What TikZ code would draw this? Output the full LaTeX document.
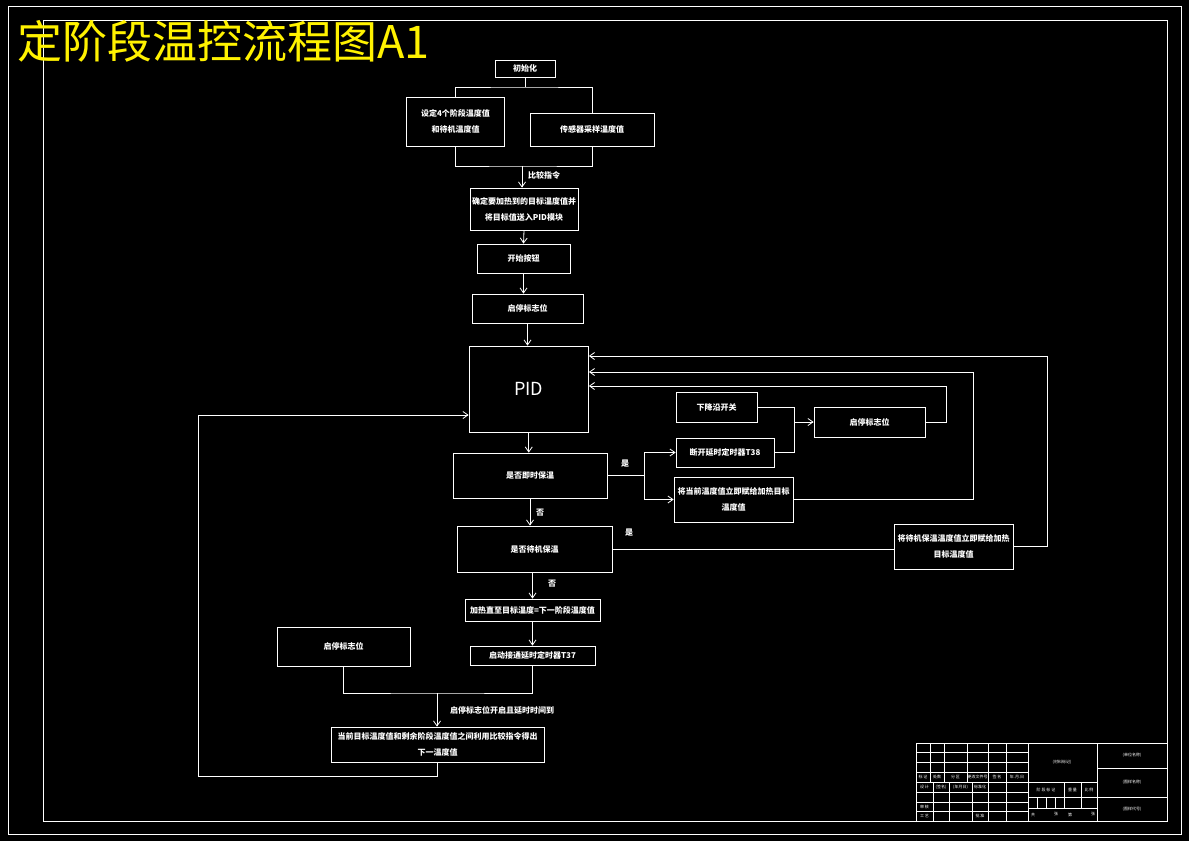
\documentclass[tikz,border=0pt]{standalone}
\usepackage{fontspec}
\newfontfamily\cjk{Noto Sans CJK SC}
\usetikzlibrary{arrows.meta}

\begin{document}
\begin{tikzpicture}[x=1pt, y=-1pt, line width=0.8pt, draw=white,
    >={Straight Barb[length=5pt,width=7pt]},
    blk/.style={draw=white, inner sep=0pt, align=center, text=white,
      font=\cjk\bfseries\fontsize{8}{16}\selectfont},
    lbl/.style={inner sep=0pt, text=white, font=\cjk\bfseries\fontsize{8}{10}\selectfont},
    tb/.style={inner sep=0pt, text=white, font=\cjk\fontsize{4}{5}\selectfont}]
    \fill[black] (0,0) rectangle (1189,841);
    \useasboundingbox (0,0) rectangle (1189,841);
    \draw (8,6) rectangle (1181,834);
    \draw (43,20) rectangle (1167,821);
    \node[anchor=west, inner sep=0pt, text=yellow, font=\cjk\fontsize{45}{45}\selectfont] (title) at (17,41) {定阶段温控流程图A1};

    \node[blk, minimum width=60, minimum height=17] (init) at (525,68.5) {初始化};
    \node[blk, minimum width=98, minimum height=49] (setval) at (455.5,121.5) {设定4个阶段温度值\\和待机温度值};
    \node[blk, minimum width=124, minimum height=33] (sensor) at (592,129.5) {传感器采样温度值};
    \node[blk, minimum width=108, minimum height=42] (target) at (524,209) {确定要加热到的目标温度值并\\将目标值送入PID模块};
    \node[blk, minimum width=93, minimum height=29] (startbtn) at (523.5,258.5) {开始按钮};
    \node[blk, minimum width=111, minimum height=29] (flag) at (527.5,308.5) {启停标志位};
    \node[blk, minimum width=119.5, minimum height=86, font=\cjk\fontsize{18}{18}\selectfont] (pid) at (528.75,389) {PID};
    \node[blk, minimum width=154, minimum height=45] (holdnow) at (530,475.5) {是否即时保温};
    \node[blk, minimum width=81, minimum height=30] (fall) at (716.5,407) {下降沿开关};
    \node[blk, minimum width=98, minimum height=29] (t38) at (725,452.5) {断开延时定时器T38};
    \node[blk, minimum width=119, minimum height=45] (curval) at (733.5,499.5) {将当前温度值立即赋给加热目标\\温度值};
    \node[blk, minimum width=111, minimum height=30] (flagr) at (869.5,422) {启停标志位};
    \node[blk, minimum width=119, minimum height=45] (standbyval) at (953.5,546.5) {将待机保温温度值立即赋给加热\\目标温度值};
    \node[blk, minimum width=155, minimum height=46] (standby) at (534.5,549) {是否待机保温};
    \node[blk, minimum width=135, minimum height=22] (heat) at (532.5,610) {加热直至目标温度=下一阶段温度值};
    \node[blk, minimum width=125, minimum height=19] (t37) at (532.5,655.5) {启动接通延时定时器T37};
    \node[blk, minimum width=133, minimum height=39] (flagl) at (343.5,646.5) {启停标志位};
    \node[blk, minimum width=213, minimum height=35] (nextval) at (437.5,744.5) {当前目标温度值和剩余阶段温度值之间利用比较指令得出\\下一温度值};

    \node[lbl] (cmp) at (544,175) {比较指令};
    \node[lbl] (yes1) at (625,464) {是};
    \node[lbl] (no1) at (540,513) {否};
    \node[lbl] (yes2) at (629,533) {是};
    \node[lbl] (no2) at (552,584) {否};
    \node[lbl] (timeup) at (502,710) {启停标志位开启且延时时间到};

    \coordinate (s1) at (525,87);
    \coordinate (m1) at (522,166);
    \coordinate (y1) at (644,475.5);
    \coordinate (j1) at (794,422);
    \coordinate (r1) at (946,386);
    \coordinate (r2) at (973,372);
    \coordinate (r3) at (1047,356);
    \coordinate (m2) at (437,693);
    \coordinate (l1) at (198,776);
    \coordinate (l2) at (198,415);

    \draw (init.south) -- (s1);
    \draw (setval.north) |- (s1) -| (sensor.north);
    \draw (setval.south) |- (m1) -| (sensor.south);
    \draw[->] (m1) -- (m1 |- target.north);
    \draw[->] (target.south) -- (startbtn.north);
    \draw[->] (startbtn.south) -- (startbtn.south |- flag.north);
    \draw[->] (flag.south) -- (flag.south |- pid.north);
    \draw[->] (pid.south) -- (pid.south |- holdnow.north);
    \draw (holdnow.east) -- (y1);
    \draw[->] (y1) |- (t38.west);
    \draw[->] (y1) |- (curval.west);
    \draw (fall.east) -| (j1);
    \draw (t38.east) -| (j1);
    \draw[->] (j1) -- (flagr.west);
    \draw[->] (flagr.east) -| (r1) -- (r1 -| pid.east);
    \draw[->] (curval.east) -| (r2) -- (r2 -| pid.east);
    \draw[->] (standbyval.east) -| (r3) -- (r3 -| pid.east);
    \draw[->] (holdnow.south) -- (holdnow.south |- standby.north);
    \draw (standby.east) -- (standby.east -| standbyval.west);
    \draw[->] (heat.north |- standby.south) -- (heat.north);
    \draw[->] (heat.south) -- (t37.north);
    \draw (flagl.south) |- (m2) -| (t37.south);
    \draw[->] (m2) -- (m2 |- nextval.north);
    \draw[->] (nextval.south) |- (l1) -- (l2) -- (l2 -| pid.west);

    \draw (916,743) rectangle (1167,821);
    \foreach \y in {752,762,772,782,792,802,811}
        \draw (916,\y) -- (1028,\y);
    \foreach \x in {930,944,967,988,1006}
        \draw (\x,743) -- (\x,782);
    \foreach \x in {933,949,972,988,1006}
        \draw (\x,782) -- (\x,821);
    \draw (1028,743) -- (1028,821);
    \draw (1097,743) -- (1097,821);
    \foreach \y in {782,797,808}
        \draw (1028,\y) -- (1097,\y);
    \foreach \x in {1037,1046,1055,1064,1081}
        \draw (\x,797) -- (\x,808);
    \foreach \x in {1064,1081}
        \draw (\x,782) -- (\x,797);
    \foreach \y in {768,797}
        \draw (1097,\y) -- (1167,\y);
    \foreach \txt/\x [count=\i] in {标\ 记/923, 处数/937, 分\ 区/955.5, 更改文件号/977.5, 签\ 名/997, 年.月.日/1017}
        \node[tb] (hd\i) at (\x,777) {\txt};
    \foreach \txt/\x [count=\i] in {设\ 计/924.5, (签名)/941, (年月日)/960.5, 标准化/980}
        \node[tb] (ds\i) at (\x,787) {\txt};
    \node[tb] (chk) at (924.5,806.5) {审\ 核};
    \node[tb] (proc) at (924.5,816) {工\ 艺};
    \node[tb] (appr) at (980,816) {批\ 准};
    \node[tb] (mat) at (1062,762) {(材料标记)};
    \foreach \txt/\x [count=\i] in {阶\ 段\ 标\ 记/1046, 重\ 量/1072.5, 比\ 例/1089}
        \node[tb] (st\i) at (\x,789.5) {\txt};
    \foreach \txt/\x [count=\i] in {共/1033, 张/1056, 第/1070, 张/1093}
        \node[tb] (pg\i) at (\x,814.5) {\txt};
    \node[tb] (unit) at (1132,755.5) {(单位名称)};
    \node[tb] (dwg) at (1132,782.5) {(图样名称)};
    \node[tb] (code) at (1132,809) {(图样代号)};
\end{tikzpicture}
\end{document}
